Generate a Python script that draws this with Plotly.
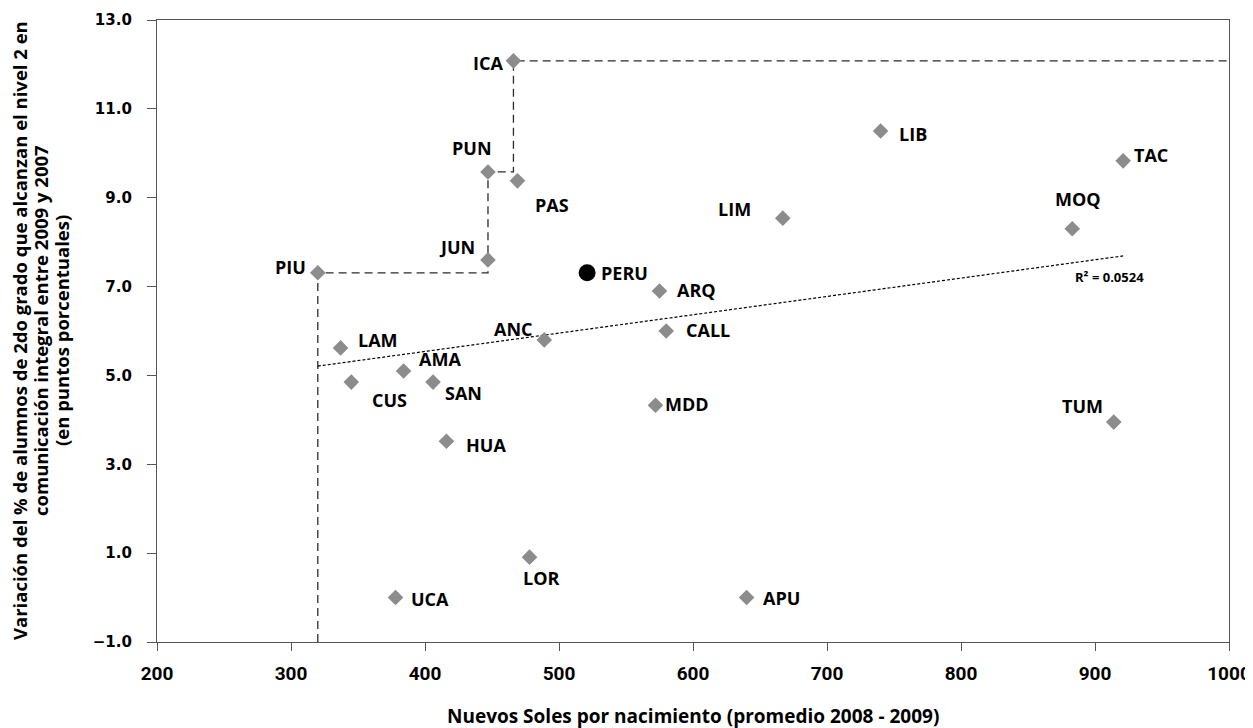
import plotly.graph_objects as go

# Regiones del Peru: gasto por nacimiento vs variacion en comunicacion
regions = ["ICA", "PUN", "PAS", "LIB", "TAC", "MOQ", "LIM", "JUN", "PIU", "ARQ", "ANC",
           "CALL", "LAM", "CUS", "AMA", "SAN", "MDD", "HUA", "TUM", "LOR", "UCA", "APU"]
soles = [466, 447, 469, 740, 921, 883, 667, 447, 320, 575, 489,
         580, 337, 345, 384, 406, 572, 416, 914, 478, 378, 640]
variacion = [12.08, 9.58, 9.38, 10.50, 9.83, 8.30, 8.54, 7.60, 7.31, 6.90, 5.80,
             6.00, 5.62, 4.85, 5.10, 4.85, 4.33, 3.52, 3.95, 0.91, 0.0, 0.0]

peru_soles = [521]
peru_var = [7.31]

# frontera escalonada (linea discontinua)
frontier_x = [320, 320, 447, 447, 466, 466, 1000]
frontier_y = [-1.0, 7.31, 7.31, 9.58, 9.58, 12.08, 12.08]

# linea de tendencia lineal (extremos)
trend_x = [320, 921]
trend_y = [5.21, 7.69]
r2_text = "R² = 0.0524"

x_ticks = [200, 300, 400, 500, 600, 700, 800, 900, 1000]
y_ticks = [-1.0, 1.0, 3.0, 5.0, 7.0, 9.0, 11.0, 13.0]

# posicion de etiquetas: (xanchor, xshift, yshift) en pixeles
label_pos = {
    "ICA": ("right", -8, -2), "PUN": ("center", -16, 24), "PAS": ("left", 16, -24),
    "LIB": ("left", 16, -3), "TAC": ("left", 9, 6), "MOQ": ("center", 6, 30),
    "LIM": ("right", -30, 9), "JUN": ("right", -11, 13), "PIU": ("right", -10, 6),
    "ARQ": ("left", 15, 1), "ANC": ("right", -9, 11), "CALL": ("left", 18, 1),
    "LAM": ("left", 15, 8), "CUS": ("left", 19, -18), "AMA": ("left", 13, 12),
    "SAN": ("left", 10, -11), "MDD": ("left", 8, 1), "HUA": ("left", 18, -4),
    "TUM": ("right", -9, 16), "LOR": ("center", 11, -21), "UCA": ("left", 13, -1),
    "APU": ("left", 14, 0),
}

LABEL_FONT = dict(family="Open Sans, Noto Sans, sans-serif", size=18, color="#000", weight="bold")

fig = go.Figure()

fig.add_trace(go.Scatter(
    x=frontier_x, y=frontier_y, mode="lines",
    line=dict(color="#2b2b2b", width=1.3, dash="8px,5px"),
    hoverinfo="skip", showlegend=False,
))
fig.add_trace(go.Scatter(
    x=trend_x, y=trend_y, mode="lines",
    line=dict(color="#000", width=1.2, dash="3px,2px"),
    hoverinfo="skip", showlegend=False,
))
fig.add_trace(go.Scatter(
    x=soles, y=variacion, mode="markers", text=regions,
    marker=dict(symbol="diamond", size=12, color="#8c8c8e"),
    showlegend=False,
))
fig.add_trace(go.Scatter(
    x=peru_soles, y=peru_var, mode="markers",
    marker=dict(symbol="circle", size=17, color="#000"),
    showlegend=False,
))

for name, xv, yv in zip(regions, soles, variacion):
    anchor, dx, dy = label_pos[name]
    fig.add_annotation(x=xv, y=yv, text=name, showarrow=False, xanchor=anchor,
                       yanchor="middle", xshift=dx, yshift=dy, font=LABEL_FONT)

fig.add_annotation(x=peru_soles[0], y=peru_var[0], text="PERU", showarrow=False,
                   xanchor="left", yanchor="middle", xshift=12, yshift=0, font=LABEL_FONT)

fig.add_annotation(x=trend_x[1], y=trend_y[1], text=r2_text, showarrow=False,
                   xanchor="center", yanchor="middle", xshift=-14, yshift=-21,
                   font=dict(family="Open Sans, sans-serif", size=13, color="#000", weight="bold"))

# titulos de ejes
TITLE_FONT = dict(family="Open Sans, Noto Sans, sans-serif", size=19, color="#000", weight="bold")
Y_TITLE_FONT = dict(TITLE_FONT, size=18.5)
y_title = [
    "Variación del % de alumnos de 2do grado que alcanzan el nivel 2 en",
    "comunicación integral entre 2009 y 2007",
    "(en puntos porcentuales)",
]
for i, line in enumerate(y_title):
    fig.add_annotation(xref="paper", yref="paper", x=0, y=0.5, text=line, showarrow=False,
                       textangle=-90, xanchor="center", yanchor="middle",
                       xshift=-138 + i * 21, font=Y_TITLE_FONT)

fig.add_annotation(xref="paper", yref="paper", x=0.5, y=0, text="Nuevos Soles por nacimiento (promedio 2008 - 2009)",
                   showarrow=False, xanchor="center", yanchor="middle", yshift=-74, font=TITLE_FONT)

fig.update_xaxes(
    range=[200, 1000], tickvals=x_ticks, ticks="outside", ticklen=8, tickwidth=1,
    tickcolor="#555", showline=True, linecolor="#555", linewidth=1.3, mirror=True,
    showgrid=False, zeroline=False, ticklabelstandoff=6, automargin=False,
    tickfont=dict(family="Roboto, sans-serif", size=19, color="#000", weight="bold"),
)
fig.update_yaxes(
    range=[-1, 13], tickvals=y_ticks, tickformat=".1f", ticks="outside", ticklen=9, tickwidth=1,
    tickcolor="#555", showline=True, linecolor="#555", linewidth=1.3, mirror=True,
    showgrid=False, zeroline=False, ticklabelstandoff=12, automargin=False,
    tickfont=dict(family="DejaVu Sans, sans-serif", size=15, color="#000", weight="bold"),
)

# la pagina tiene 8px de margen en el body
fig.update_layout(
    width=1253, height=728,
    margin=dict(l=149, r=32, t=12, b=94),
    plot_bgcolor="white", paper_bgcolor="white",
)

fig.write_html("out.html")
